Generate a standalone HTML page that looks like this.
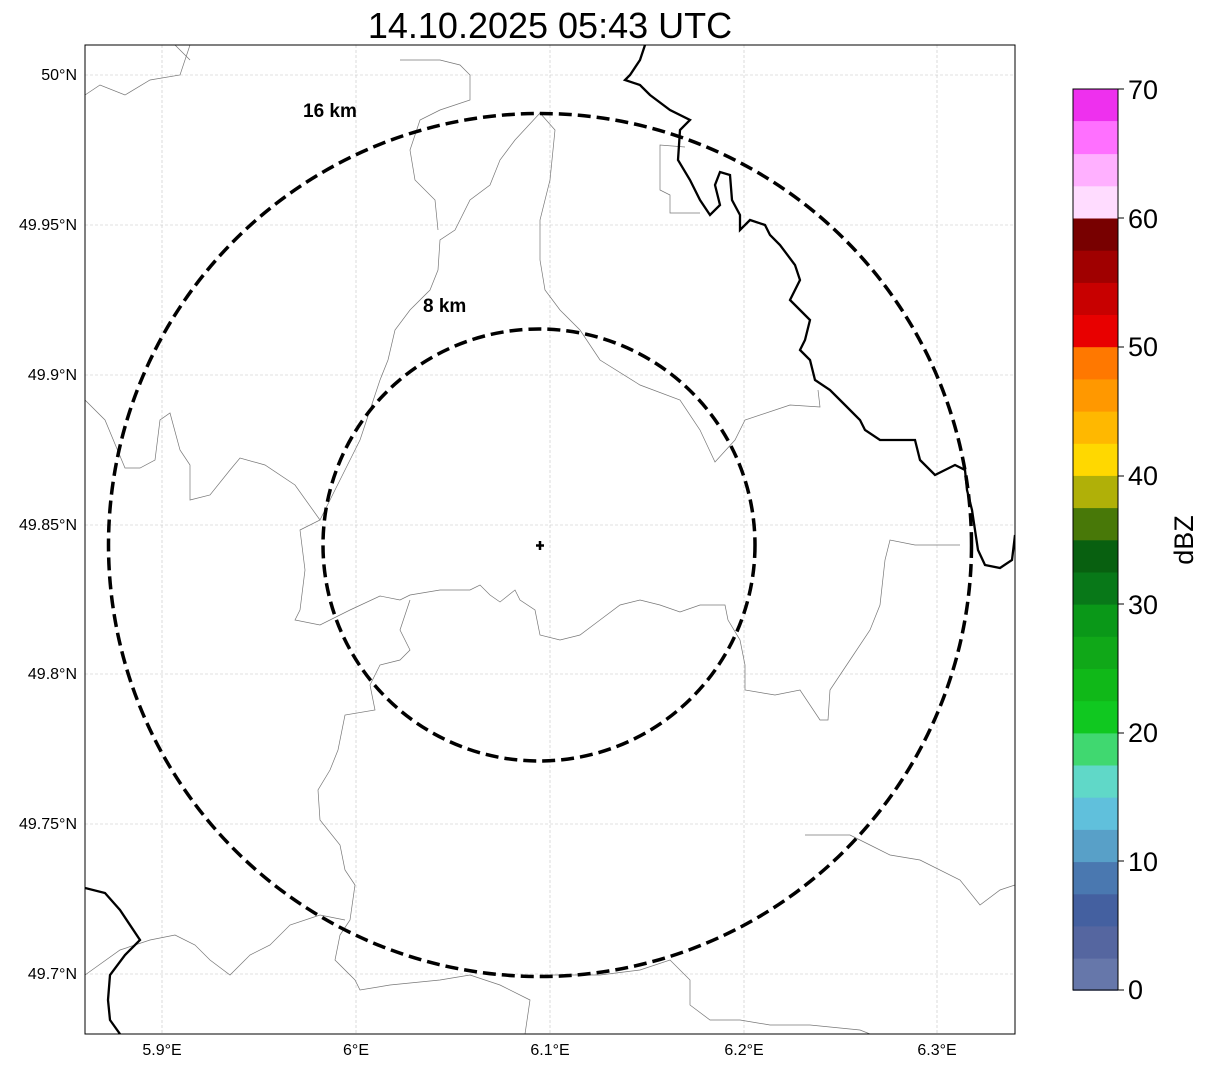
<!DOCTYPE html>
<html><head><style>
body{margin:0;background:#fff;width:1207px;height:1069px;overflow:hidden;font-family:"Liberation Sans",sans-serif;}
</style></head><body>
<svg width="1207" height="1069" xmlns="http://www.w3.org/2000/svg" font-family="Liberation Sans, sans-serif">
<text x="550" y="38" font-size="36" text-anchor="middle">14.10.2025 05:43 UTC</text>
<defs><clipPath id="c"><rect x="85" y="45" width="930" height="989"/></clipPath></defs>
<g clip-path="url(#c)">
<g stroke="#c4c4c4" stroke-width="0.6" stroke-dasharray="3,2">
<line x1="162" y1="45" x2="162" y2="1034"/><line x1="356" y1="45" x2="356" y2="1034"/><line x1="550" y1="45" x2="550" y2="1034"/><line x1="744" y1="45" x2="744" y2="1034"/><line x1="937" y1="45" x2="937" y2="1034"/>
<line x1="85" y1="75" x2="1015" y2="75"/><line x1="85" y1="225" x2="1015" y2="225"/><line x1="85" y1="375" x2="1015" y2="375"/><line x1="85" y1="525" x2="1015" y2="525"/><line x1="85" y1="674" x2="1015" y2="674"/><line x1="85" y1="824" x2="1015" y2="824"/><line x1="85" y1="974" x2="1015" y2="974"/>
</g>
<g fill="none" stroke="#777" stroke-width="0.7">
<path d="M85 95 L100 85 L125 95 L150 80 L180 75 L190 45"/>
<path d="M540 113 L515 140 L500 160 L490 185 L470 200 L455 230 L440 240 L438 270 L430 290 L410 310 L395 330 L388 360 L380 380 L370 410 L360 440 L345 470 L330 500 L320 520"/>
<path d="M540 113 L555 130 L550 180 L540 220 L540 260 L545 290 L560 310 L580 330 L600 360 L640 385 L680 400 L700 430 L715 462 L735 440 L745 420 L790 405 L820 407 L818 390"/>
<path d="M85 400 L105 420 L125 468 L140 468 L155 460 L160 420 L170 413 L180 450 L190 465 L190 500 L210 495 L230 470 L240 458 L265 465 L295 485 L320 520 L300 530 L305 570 L300 610 L295 620 L320 625 L350 610 L380 596 L400 600 L410 595 L440 590 L470 590 L480 585 L490 595 L500 602 L515 590 L520 600 L535 610 L540 635 L560 640 L580 635 L600 620 L620 605 L640 600 L660 605 L680 612 L700 605 L725 605 L728 620 L740 640 L745 665 L745 690 L775 695 L800 690 L820 720 L828 720 L830 690 L850 660 L870 630 L880 605 L885 560 L890 540 L915 545 L960 545"/>
<path d="M410 600 L400 630 L410 650 L400 660 L380 665 L370 685 L375 710 L345 715 L338 750 L330 770 L318 790 L320 820 L340 845 L345 870 L355 885 L350 920 L340 935 L335 960 L355 980 L360 990 L390 985 L440 980 L470 975 L500 985 L530 1000 L525 1034"/>
<path d="M85 975 L120 950 L150 940 L175 935 L195 945 L210 960 L230 975 L250 955 L270 945 L290 925 L320 915 L345 920"/>
<path d="M540 975 L600 975 L640 970 L670 960 L690 980 L690 1005 L710 1020 L740 1020 L770 1025 L810 1025 L860 1030 L870 1034"/>
<path d="M805 835 L850 835 L870 845 L890 855 L920 860 L960 880 L980 905 L1000 890 L1015 885"/>
<path d="M685 147 L660 145 L660 190 L670 195 L670 213 L700 213"/>
<path d="M175 45 L190 60"/><path d="M400 60 L420 60 L440 60 L460 65 L470 75 L470 100 L440 110 L420 120 L410 150 L415 180 L435 200 L438 230"/>
</g>
<g fill="none" stroke="#000" stroke-width="2.3">
<path d="M645 45 L640 60 L630 75 L625 80 L640 85 L650 95 L670 110 L690 120 L680 130 L678 160 L690 180 L700 200 L710 215 L720 205 L715 185 L720 172 L730 175 L732 200 L740 215 L740 230 L750 220 L765 225 L770 235 L780 245 L795 265 L800 280 L790 300 L800 310 L810 320 L805 340 L800 350 L810 360 L815 380 L830 390 L845 405 L860 420 L865 430 L880 440 L900 440 L915 440 L920 460 L935 475 L955 465 L965 470 L967 490 L972 510 L975 530 L978 550 L985 565 L1000 568 L1012 560 L1015 535"/>
<path d="M85 888 L105 893 L120 910 L140 940 L125 955 L110 975 L108 1000 L110 1020 L120 1034"/>
</g>
<g fill="none" stroke="#000" stroke-width="3.5" stroke-dasharray="13,6">
<circle cx="540" cy="545" r="431.5"/>
<circle cx="539" cy="545" r="216"/>
</g>
<path d="M540 541 V550 M536 545.5 H544" stroke="#000" stroke-width="2.5"/>
<text x="303" y="117" font-size="19" font-weight="bold">16 km</text>
<text x="423" y="312" font-size="19" font-weight="bold">8 km</text>
</g>
<rect x="85" y="45" width="930" height="989" fill="none" stroke="#000" stroke-width="1"/>
<g font-size="16" text-anchor="end">
<text x="77" y="80">50°N</text><text x="77" y="230">49.95°N</text><text x="77" y="380">49.9°N</text><text x="77" y="530">49.85°N</text><text x="77" y="679">49.8°N</text><text x="77" y="829">49.75°N</text><text x="77" y="979">49.7°N</text>
</g>
<g font-size="16" text-anchor="middle">
<text x="162" y="1055">5.9°E</text><text x="356" y="1055">6°E</text><text x="550" y="1055">6.1°E</text><text x="744" y="1055">6.2°E</text><text x="937" y="1055">6.3°E</text>
</g>
<g>
<rect x="1073" y="957.8" width="45" height="33" fill="#6677aa"/>
<rect x="1073" y="925.6" width="45" height="33" fill="#5566a0"/>
<rect x="1073" y="893.4" width="45" height="33" fill="#4460a0"/>
<rect x="1073" y="861.3" width="45" height="33" fill="#4a78b0"/>
<rect x="1073" y="829.1" width="45" height="33" fill="#58a0c8"/>
<rect x="1073" y="796.9" width="45" height="33" fill="#60c0dc"/>
<rect x="1073" y="764.7" width="45" height="33" fill="#60d8c8"/>
<rect x="1073" y="732.5" width="45" height="33" fill="#40d870"/>
<rect x="1073" y="700.4" width="45" height="33" fill="#10c820"/>
<rect x="1073" y="668.2" width="45" height="33" fill="#10b818"/>
<rect x="1073" y="636" width="45" height="33" fill="#10a818"/>
<rect x="1073" y="603.8" width="45" height="33" fill="#0a9818"/>
<rect x="1073" y="571.6" width="45" height="33" fill="#087818"/>
<rect x="1073" y="539.5" width="45" height="33" fill="#086010"/>
<rect x="1073" y="507.3" width="45" height="33" fill="#487808"/>
<rect x="1073" y="475.1" width="45" height="33" fill="#b0b008"/>
<rect x="1073" y="442.9" width="45" height="33" fill="#ffd800"/>
<rect x="1073" y="410.8" width="45" height="33" fill="#ffb800"/>
<rect x="1073" y="378.6" width="45" height="33" fill="#ff9800"/>
<rect x="1073" y="346.4" width="45" height="33" fill="#ff7800"/>
<rect x="1073" y="314.2" width="45" height="33" fill="#e80000"/>
<rect x="1073" y="282" width="45" height="33" fill="#c80000"/>
<rect x="1073" y="249.9" width="45" height="33" fill="#a00000"/>
<rect x="1073" y="217.7" width="45" height="33" fill="#780000"/>
<rect x="1073" y="185.5" width="45" height="33" fill="#ffdcff"/>
<rect x="1073" y="153.3" width="45" height="33" fill="#ffb0ff"/>
<rect x="1073" y="121.1" width="45" height="33" fill="#ff70ff"/>
<rect x="1073" y="89" width="45" height="32.2" fill="#ee30ee"/>
</g>
<rect x="1073" y="89" width="45" height="901" fill="none" stroke="#000"/>
<g font-size="27">
<text x="1128" y="999">0</text><text x="1128" y="871">10</text><text x="1128" y="742">20</text><text x="1128" y="614">30</text><text x="1128" y="485">40</text><text x="1128" y="356">50</text><text x="1128" y="228">60</text><text x="1128" y="99">70</text>
</g>
<g stroke="#000"><line x1="1118" y1="990" x2="1124" y2="990"/><line x1="1118" y1="861" x2="1124" y2="861"/><line x1="1118" y1="733" x2="1124" y2="733"/><line x1="1118" y1="604" x2="1124" y2="604"/><line x1="1118" y1="476" x2="1124" y2="476"/><line x1="1118" y1="347" x2="1124" y2="347"/><line x1="1118" y1="218" x2="1124" y2="218"/><line x1="1118" y1="89" x2="1124" y2="89"/></g>
<text x="1193" y="540" font-size="27" text-anchor="middle" transform="rotate(-90 1193 540)">dBZ</text>
</svg>
</body></html>
